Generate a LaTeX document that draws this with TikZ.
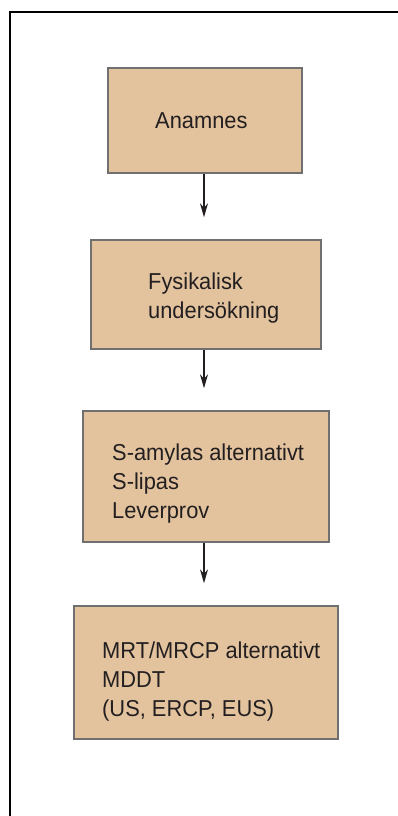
\documentclass[tikz,border=0pt]{standalone}
\usepackage{fontspec}
\setmainfont[FakeStretch=0.95]{Liberation Sans}
\usetikzlibrary{arrows.meta}
\definecolor{boxfill}{RGB}{227,195,158}
\definecolor{boxline}{RGB}{112,112,112}
\definecolor{txt}{RGB}{35,31,32}
\begin{document}
\begin{tikzpicture}[x=1pt,y=-1pt,
  stepbox/.style={draw=boxline,fill=boxfill,line width=1.5pt,rectangle,inner sep=0pt},
  lbl/.style={anchor=north west,inner sep=0pt,align=left,text=txt,
    font=\fontsize{23pt}{28.8pt}\selectfont},
  flow/.style={draw=txt,line width=1.2pt,-{Stealth[length=14pt,width=8pt]},shorten >=22pt}]
\useasboundingbox (0,0) rectangle (398,816);
\fill[white] (0,0) rectangle (398,816);
\draw[line width=2pt,black] (10,816) -- (10,12) -- (398,12);
\node[stepbox,minimum width=194pt,minimum height=105pt] (b1) at (205,120.5) {};
\node[stepbox,minimum width=230pt,minimum height=109pt] (b2) at (206,294.5) {};
\node[stepbox,minimum width=246pt,minimum height=131pt] (b3) at (206,476.5) {};
\node[stepbox,minimum width=264pt,minimum height=133pt] (b4) at (206,672.5) {};
\node[lbl] (t1) at (155,112) {Anamnes};
\node[lbl] (t2) at (148,273) {Fysikalisk\\undersökning};
\node[lbl] (t3) at (112,444) {S-amylas alternativt\\S-lipas\\Leverprov};
\node[lbl] (t4) at (102,642) {MRT/MRCP alternativt\\MDDT\\(US, ERCP, EUS)};
\draw[flow] (b1.south -| 204,0) -- (b2.north -| 204,0);
\draw[flow] (b2.south -| 204,0) -- (b3.north -| 204,0);
\draw[flow] (b3.south -| 204,0) -- (b4.north -| 204,0);
\end{tikzpicture}
\end{document}
